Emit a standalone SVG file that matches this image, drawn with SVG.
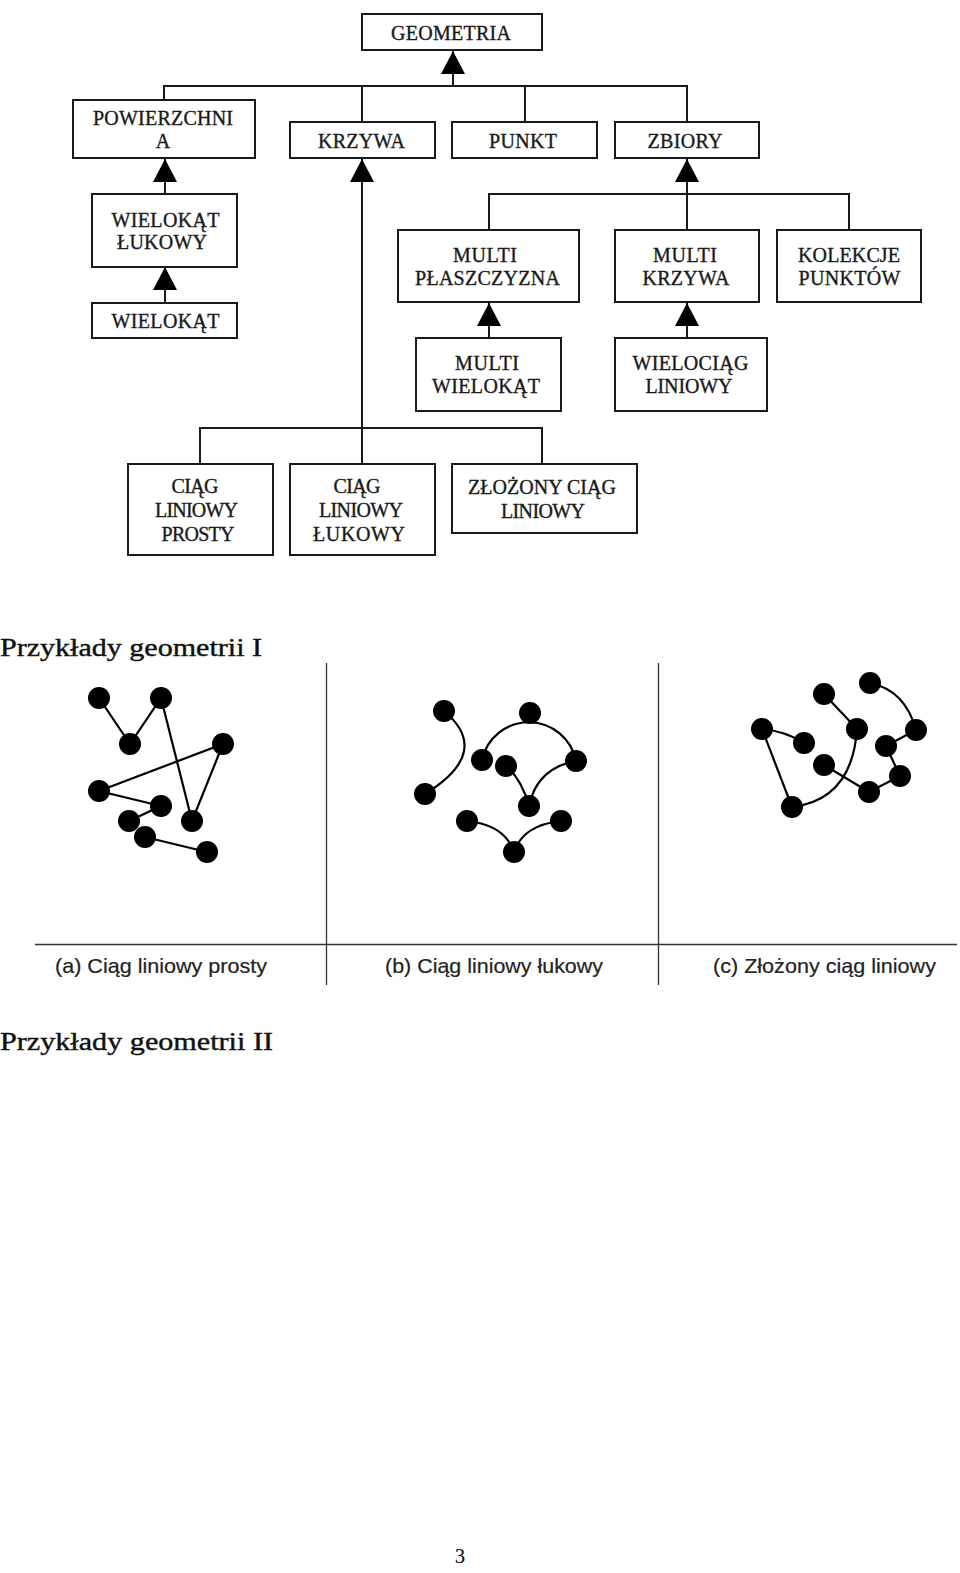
<svg xmlns="http://www.w3.org/2000/svg" width="960" height="1573" viewBox="0 0 960 1573">
<defs>
<style>
.box{fill:#fff;stroke:#1a1a1a;stroke-width:2}
.t{font-family:"Liberation Serif","Times New Roman",serif;font-size:20px;fill:#1a1a1a;stroke:#1a1a1a;stroke-width:0.35;text-anchor:middle}
.con{fill:none;stroke:#1a1a1a;stroke-width:2}
.arr{fill:none;stroke:#1a1a1a;stroke-width:2;marker-end:url(#tri)}
.h{font-family:"Liberation Serif","Times New Roman",serif;font-size:25px;fill:#111;stroke:#111;stroke-width:0.4}
.cap{font-family:"Liberation Sans",Arial,sans-serif;font-size:21px;fill:#222;stroke:#222;stroke-width:0.2}
.rule{stroke:#333;stroke-width:1.3;fill:none}
.e{fill:none;stroke:#000;stroke-width:2.2}
.d{fill:#000}
</style>
<marker id="tri" viewBox="0 0 23 24" refX="23" refY="12" markerWidth="23" markerHeight="24" markerUnits="userSpaceOnUse" orient="auto">
<path d="M0,0 L23,12 L0,24 Z" fill="#000"/>
</marker>
</defs>
<rect width="960" height="1573" fill="#fff"/>

<g id="connectors">
<path class="arr" d="M453,86 V51"/>
<path class="con" d="M164,100 V86 H687 V122 M362,86 V122 M525,86 V122"/>
<path class="arr" d="M165,194 V159"/>
<path class="arr" d="M165,303 V267"/>
<path class="arr" d="M362,464 V159"/>
<path class="con" d="M200,464 V428 H542 V464"/>
<path class="arr" d="M687,194 V159"/>
<path class="con" d="M489,230 V194 H849 V230 M687,194 V230"/>
<path class="arr" d="M489,338 V303"/>
<path class="arr" d="M687,338 V303"/>
</g>

<g id="n-geometria"><rect class="box" x="362" y="14" width="180" height="36"/><text class="t" x="451" y="40" textLength="120" lengthAdjust="spacing">GEOMETRIA</text></g>
<g id="n-powierzchnia"><rect class="box" x="73" y="100" width="182" height="58"/><text class="t" x="163" y="125" textLength="140" lengthAdjust="spacing">POWIERZCHNI</text><text class="t" x="163" y="148">A</text></g>
<g id="n-krzywa"><rect class="box" x="290" y="122" width="145" height="36"/><text class="t" x="361.5" y="148" textLength="87" lengthAdjust="spacing">KRZYWA</text></g>
<g id="n-punkt"><rect class="box" x="452" y="122" width="145" height="36"/><text class="t" x="523" y="148" textLength="68" lengthAdjust="spacing">PUNKT</text></g>
<g id="n-zbiory"><rect class="box" x="615" y="122" width="144" height="36"/><text class="t" x="685" y="148" textLength="75" lengthAdjust="spacing">ZBIORY</text></g>
<g id="n-wielokat-lukowy"><rect class="box" x="92" y="194" width="145" height="73"/><text class="t" x="165.5" y="227" textLength="108" lengthAdjust="spacing">WIELOKĄT</text><text class="t" x="162" y="249" textLength="90" lengthAdjust="spacing">ŁUKOWY</text></g>
<g id="n-wielokat"><rect class="box" x="92" y="303" width="145" height="35"/><text class="t" x="165.5" y="328" textLength="108" lengthAdjust="spacing">WIELOKĄT</text></g>
<g id="n-multi-plaszczyzna"><rect class="box" x="398" y="230" width="181" height="72"/><text class="t" x="485" y="262" textLength="64" lengthAdjust="spacing">MULTI</text><text class="t" x="487.5" y="285" textLength="145" lengthAdjust="spacing">PŁASZCZYZNA</text></g>
<g id="n-multi-krzywa"><rect class="box" x="615" y="230" width="144" height="72"/><text class="t" x="685" y="262" textLength="64" lengthAdjust="spacing">MULTI</text><text class="t" x="686" y="285" textLength="87" lengthAdjust="spacing">KRZYWA</text></g>
<g id="n-kolekcje"><rect class="box" x="777" y="230" width="144" height="72"/><text class="t" x="849" y="262" textLength="102" lengthAdjust="spacing">KOLEKCJE</text><text class="t" x="849.5" y="285" textLength="102" lengthAdjust="spacing">PUNKTÓW</text></g>
<g id="n-multi-wielokat"><rect class="box" x="416" y="338" width="145" height="73"/><text class="t" x="487" y="370" textLength="64" lengthAdjust="spacing">MULTI</text><text class="t" x="486" y="393" textLength="108" lengthAdjust="spacing">WIELOKĄT</text></g>
<g id="n-wielociag"><rect class="box" x="615" y="338" width="152" height="73"/><text class="t" x="690.5" y="370" textLength="116" lengthAdjust="spacing">WIELOCIĄG</text><text class="t" x="689" y="393" textLength="87" lengthAdjust="spacing">LINIOWY</text></g>
<g id="n-ciag-prosty"><rect class="box" x="128" y="464" width="145" height="91"/><text class="t" x="195" y="493" textLength="47" lengthAdjust="spacing">CIĄG</text><text class="t" x="196.5" y="517" textLength="83" lengthAdjust="spacing">LINIOWY</text><text class="t" x="198" y="541" textLength="73" lengthAdjust="spacing">PROSTY</text></g>
<g id="n-ciag-lukowy"><rect class="box" x="290" y="464" width="145" height="91"/><text class="t" x="357" y="493" textLength="47" lengthAdjust="spacing">CIĄG</text><text class="t" x="361" y="517" textLength="84" lengthAdjust="spacing">LINIOWY</text><text class="t" x="359" y="541" textLength="92" lengthAdjust="spacing">ŁUKOWY</text></g>
<g id="n-zlozony"><rect class="box" x="452" y="464" width="185" height="69"/><text class="t" x="542" y="494" textLength="148" lengthAdjust="spacing">ZŁOŻONY CIĄG</text><text class="t" x="543" y="518" textLength="84" lengthAdjust="spacing">LINIOWY</text></g>

<text class="h" x="0" y="656" textLength="262" lengthAdjust="spacingAndGlyphs">Przykłady geometrii I</text>

<g id="figure-panels">
<path class="rule" d="M35,944.5 H957 M326.5,663 V985 M658.5,663 V985"/>
<text class="cap" x="55" y="973" textLength="212" lengthAdjust="spacingAndGlyphs">(a) Ciąg liniowy prosty</text>
<text class="cap" x="385" y="973" textLength="218" lengthAdjust="spacingAndGlyphs">(b) Ciąg liniowy łukowy</text>
<text class="cap" x="713" y="973" textLength="223" lengthAdjust="spacingAndGlyphs">(c) Złożony ciąg liniowy</text>
</g>

<g id="panel-a">
<path class="e" d="M99,698 L130,744 L161,698 L192,821 L223,744 L99,791 L161,806 L129,821 M145,837 L207,852"/>
<circle class="d" cx="99" cy="698" r="11"/>
<circle class="d" cx="161" cy="698" r="11"/>
<circle class="d" cx="130" cy="744" r="11"/>
<circle class="d" cx="223" cy="744" r="11"/>
<circle class="d" cx="99" cy="791" r="11"/>
<circle class="d" cx="161" cy="806" r="11"/>
<circle class="d" cx="129" cy="821" r="11"/>
<circle class="d" cx="192" cy="821" r="11"/>
<circle class="d" cx="145" cy="837" r="11"/>
<circle class="d" cx="207" cy="852" r="11"/>
</g>

<g id="panel-b">
<path class="e" d="M444,711 Q493,752 425,794"/>
<path class="e" d="M482,760 A48,48 0 0 1 576,761"/>
<path class="e" d="M506,766 Q522,780 529,806"/>
<path class="e" d="M576,761 Q537,768 529,806"/>
<path class="e" d="M467,821 Q505,825 514,852"/>
<path class="e" d="M561,821 Q523,825 514,852"/>
<circle class="d" cx="444" cy="711" r="11"/>
<circle class="d" cx="425" cy="794" r="11"/>
<circle class="d" cx="530" cy="713" r="11"/>
<circle class="d" cx="482" cy="760" r="11"/>
<circle class="d" cx="506" cy="766" r="11"/>
<circle class="d" cx="576" cy="761" r="11"/>
<circle class="d" cx="529" cy="806" r="11"/>
<circle class="d" cx="467" cy="821" r="11"/>
<circle class="d" cx="561" cy="821" r="11"/>
<circle class="d" cx="514" cy="852" r="11"/>
</g>

<g id="panel-c">
<path class="e" d="M762,729 Q785,731 804,743"/>
<path class="e" d="M762,729 L792,807"/>
<path class="e" d="M792,807 Q852,800 857,729"/>
<path class="e" d="M824,694 L857,729"/>
<path class="e" d="M824,765 L869,792 L900,776 L886,746 L916,730"/>
<path class="e" d="M870,683 Q905,690 916,730"/>
<circle class="d" cx="762" cy="729" r="11"/>
<circle class="d" cx="804" cy="743" r="11"/>
<circle class="d" cx="792" cy="807" r="11"/>
<circle class="d" cx="824" cy="694" r="11"/>
<circle class="d" cx="857" cy="729" r="11"/>
<circle class="d" cx="824" cy="765" r="11"/>
<circle class="d" cx="869" cy="792" r="11"/>
<circle class="d" cx="900" cy="776" r="11"/>
<circle class="d" cx="886" cy="746" r="11"/>
<circle class="d" cx="916" cy="730" r="11"/>
<circle class="d" cx="870" cy="683" r="11"/>
</g>

<text class="h" x="0" y="1050" textLength="273" lengthAdjust="spacingAndGlyphs">Przykłady geometrii II</text>
<text class="h" x="460" y="1563" style="font-size:20px;stroke-width:0.2" text-anchor="middle">3</text>
</svg>
